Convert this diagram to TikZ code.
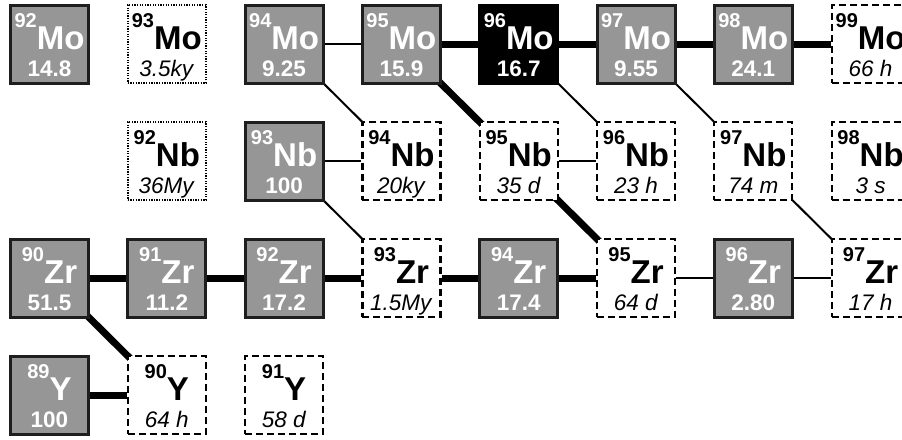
\documentclass[tikz,border=0pt]{standalone}
\usepackage{fontspec}
\setmainfont{Liberation Sans}
\usepackage{tikz}
\usetikzlibrary{backgrounds}
\definecolor{stablegray}{RGB}{150,150,150}
\definecolor{edgegray}{RGB}{30,30,30}
\tikzstyle{nuc} = [rectangle, minimum size=78pt, inner sep=0pt]
\tikzstyle{stable} = [nuc, fill=stablegray, draw=edgegray, line width=3pt, text=white]
\tikzstyle{richest} = [nuc, fill=black, draw=black, line width=3pt, text=white]
\tikzstyle{unstable} = [nuc, fill=white, draw=black, line width=2.2pt, dash pattern=on 7pt off 4pt]
\tikzstyle{longlived} = [nuc, fill=white, draw=black, line width=2pt, dash pattern=on 1.3pt off 1.3pt]
\tikzstyle{weak} = [line width=2pt]
\tikzstyle{strong} = [line width=7pt]
\tikzstyle{diag} = [shorten <=-5pt, shorten >=-5pt]

% mass number + symbol on top, abundance or half-life below
\newcommand{\isosym}[2]{\rule{0pt}{43pt}{\bfseries\raisebox{22pt}{\fontsize{20}{20}\selectfont #1}\fontsize{33}{33}\selectfont #2}}
\newcommand{\cellbox}[1]{\parbox[c]{78pt}{\fontsize{22.5}{27}\selectfont\centering #1\par}}
\newcommand{\stab}[3]{\cellbox{\isosym{#1}{#2}\\\rule[-5pt]{0pt}{5pt}\textbf{#3}}}
\newcommand{\halflife}[3]{\cellbox{\isosym{#1}{#2}\\\rule[-5pt]{0pt}{5pt}\textit{#3}}}

\begin{document}
\begin{tikzpicture}[x=1pt,y=1pt]
\useasboundingbox (0,0) rectangle (902,-439);

% Mo row
\node[stable]    (mo92) at (49.5,-44)  {\stab{92}{Mo}{14.8}};
\node[longlived] (mo93) at (166.8,-44) {\halflife{93}{Mo}{3.5ky}};
\node[stable]    (mo94) at (284.1,-44) {\stab{94}{Mo}{9.25}};
\node[stable]    (mo95) at (401.4,-44) {\stab{95}{Mo}{15.9}};
\node[richest]   (mo96) at (518.7,-44) {\stab{96}{Mo}{16.7}};
\node[stable]    (mo97) at (636,-44)   {\stab{97}{Mo}{9.55}};
\node[stable]    (mo98) at (753.3,-44) {\stab{98}{Mo}{24.1}};
\node[unstable]  (mo99) at (870.6,-44) {\halflife{99}{Mo}{66 h}};

% Nb row
\node[longlived] (nb92) at (166.8,-161) {\halflife{92}{Nb}{36My}};
\node[stable]    (nb93) at (284.1,-161) {\stab{93}{Nb}{100}};
\node[unstable]  (nb94) at (401.4,-161) {\halflife{94}{Nb}{20ky}};
\node[unstable]  (nb95) at (518.7,-161) {\halflife{95}{Nb}{35 d}};
\node[unstable]  (nb96) at (636,-161)   {\halflife{96}{Nb}{23 h}};
\node[unstable]  (nb97) at (753.3,-161) {\halflife{97}{Nb}{74 m}};
\node[unstable]  (nb98) at (870.6,-161) {\halflife{98}{Nb}{3 s}};

% Zr row
\node[stable]    (zr90) at (49.5,-278)  {\stab{90}{Zr}{51.5}};
\node[stable]    (zr91) at (166.8,-278) {\stab{91}{Zr}{11.2}};
\node[stable]    (zr92) at (284.1,-278) {\stab{92}{Zr}{17.2}};
\node[unstable]  (zr93) at (401.4,-278) {\halflife{93}{Zr}{1.5My}};
\node[stable]    (zr94) at (518.7,-278) {\stab{94}{Zr}{17.4}};
\node[unstable]  (zr95) at (636,-278)   {\halflife{95}{Zr}{64 d}};
\node[stable]    (zr96) at (753.3,-278) {\stab{96}{Zr}{2.80}};
\node[unstable]  (zr97) at (870.6,-278) {\halflife{97}{Zr}{17 h}};

% Y row
\node[stable]    (y89) at (49.5,-395)  {\stab{89}{Y}{100}};
\node[unstable]  (y90) at (166.8,-395) {\halflife{90}{Y}{64 h}};
\node[unstable]  (y91) at (284.1,-395) {\halflife{91}{Y}{58 d}};

% links
\begin{scope}[on background layer]
\foreach \a/\b in {mo95/mo96, mo96/mo97, mo97/mo98, mo98/mo99, zr90/zr91, zr91/zr92, zr92/zr93, zr93/zr94, zr94/zr95, y89/y90}
  \draw[strong] (\a) -- (\b);
\foreach \a/\b in {mo94/mo95, nb93/nb94, nb95/nb96, zr95/zr96, zr96/zr97}
  \draw[weak] (\a) -- (\b);
\foreach \a/\b in {mo95/nb95, nb95/zr95, zr90/y90}
  \draw[strong,diag] (\a.south east) -- (\b.north west);
\foreach \a/\b in {mo94/nb94, mo96/nb96, mo97/nb97, nb93/zr93, nb97/zr97}
  \draw[weak,diag] (\a.south east) -- (\b.north west);
\end{scope}
\end{tikzpicture}
\end{document}
